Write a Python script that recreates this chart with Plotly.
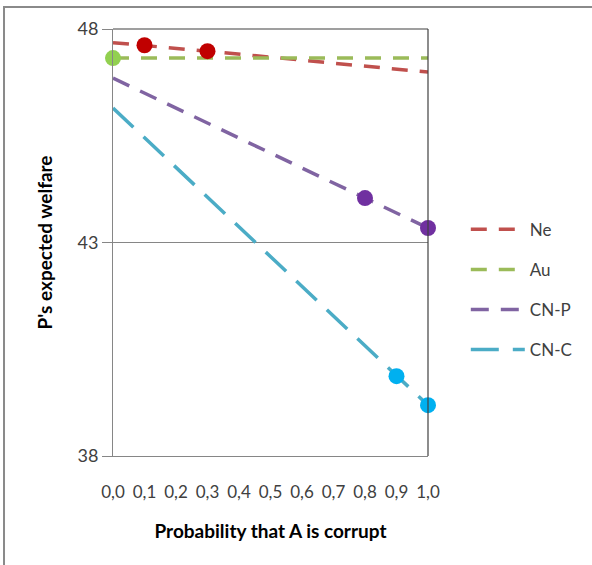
import plotly.graph_objects as go

# ---- data ----
x_ticks = [0.0, 0.1, 0.2, 0.3, 0.4, 0.5, 0.6, 0.7, 0.8, 0.9, 1.0]
x_tick_labels = ["0,0", "0,1", "0,2", "0,3", "0,4", "0,5", "0,6", "0,7", "0,8", "0,9", "1,0"]

ne_x = [0.0, 0.1, 0.3, 1.0]
ne_y = [47.68, 47.62, 47.48, 46.99]
ne_mark_x = [0.1, 0.3]
ne_mark_y = [47.62, 47.48]

au_x = [0.0, 1.0]
au_y = [47.32, 47.32]
au_mark_x = [0.0]
au_mark_y = [47.32]

cnp_x = [0.0, 0.8, 1.0]
cnp_y = [46.85, 44.04, 43.34]
cnp_mark_x = [0.8, 1.0]
cnp_mark_y = [44.04, 43.34]

cnc_x = [0.0, 0.9, 1.0]
cnc_y = [46.15, 39.87, 39.19]
cnc_mark_x = [0.9, 1.0]
cnc_mark_y = [39.87, 39.19]

series = [
    ("Ne", ne_x, ne_y, ne_mark_x, ne_mark_y, "#C0504D", "#C00000", "16px,12px"),
    ("Au", au_x, au_y, au_mark_x, au_mark_y, "#9BBB59", "#92D050", "16px,12px"),
    ("CN-P", cnp_x, cnp_y, cnp_mark_x, cnp_mark_y, "#8064A2", "#7030A0", "18px,12px"),
    ("CN-C", cnc_x, cnc_y, cnc_mark_x, cnc_mark_y, "#4BACC6", "#00B0F0", "28px,14px"),
]

FONT = "Lato"

fig = go.Figure()
for name, xs, ys, mx, my, lc, mc, dash in series:
    fig.add_trace(go.Scatter(
        x=xs, y=ys, mode="lines", name=name, legendgroup=name,
        line=dict(color=lc, width=3.5, dash=dash),
        hoverinfo="skip",
    ))
for name, xs, ys, mx, my, lc, mc, dash in series:
    fig.add_trace(go.Scatter(
        x=mx, y=my, mode="markers", name=name, legendgroup=name, showlegend=False,
        marker=dict(color=mc, size=16, line=dict(width=0)),
        cliponaxis=False,
    ))

fig.update_layout(
    width=592, height=565,
    margin=dict(l=113, r=164, t=29, b=109),
    paper_bgcolor="white", plot_bgcolor="white",
    font=dict(family=FONT, size=15, color="#404040"),
    showlegend=True,
    legend=dict(
        x=1.12, y=0.572, xanchor="left", yanchor="top",
        font=dict(family=FONT, size=17, color="#404040"),
        tracegroupgap=15, itemwidth=54,
        bgcolor="rgba(0,0,0,0)",
    ),
    xaxis=dict(
        range=[0, 1], tickmode="array", tickvals=x_ticks, ticktext=x_tick_labels,
        showgrid=False, zeroline=False, showline=True, linecolor="#868686", linewidth=1,
        ticks="", ticklabelstandoff=21,
        tickfont=dict(family=FONT, size=17, color="#404040"),
        title=dict(text="<b>Probability that A is corrupt</b>", standoff=23,
                   font=dict(family=FONT, size=19, color="black")),
    ),
    yaxis=dict(
        range=[38, 48], tickmode="array", tickvals=[38, 43, 48],
        showgrid=True, gridcolor="#868686", gridwidth=1, zeroline=False,
        showline=True, linecolor="#868686", linewidth=1,
        ticks="outside", ticklen=10, tickcolor="#868686",
        tickfont=dict(family=FONT, size=18, color="#404040"),
        title=dict(text="<b>P's expected welfare</b>", standoff=19,
                   font=dict(family=FONT, size=19, color="black")),
    ),
    shapes=[
        dict(type="line", xref="paper", yref="paper", x0=0, x1=1, y0=1, y1=1,
             line=dict(color="#404040", width=1.2)),
        dict(type="line", xref="paper", yref="paper", x0=1, x1=1, y0=0, y1=1,
             line=dict(color="#404040", width=1.2)),
        dict(type="rect", xref="paper", yref="paper", x0=-0.346, x1=1.53, y0=-0.28, y1=1.0515,
             line=dict(color="#8A8A8A", width=2), layer="below"),
    ],
)

fig.write_html("out.html")
